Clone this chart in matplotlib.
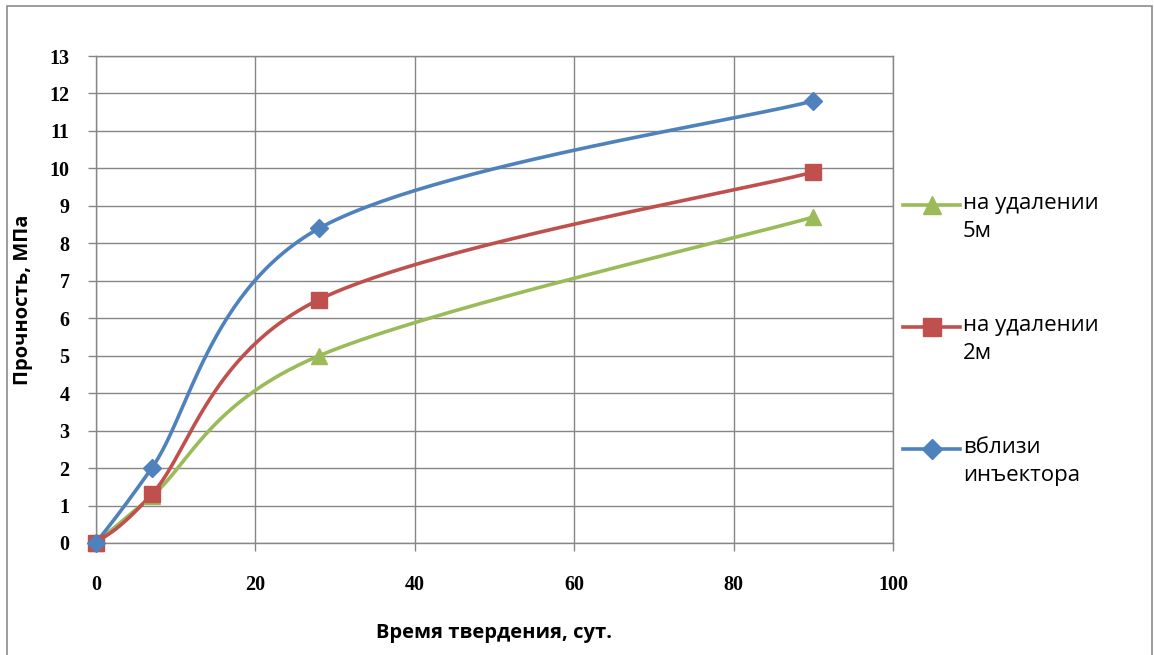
import numpy as np
import matplotlib
matplotlib.use("Agg")
import matplotlib.pyplot as plt
from matplotlib.lines import Line2D
from matplotlib.patches import Rectangle

# Curing time, days
days = [0, 7, 28, 90]

# Strength, MPa
near_injector = [0.0, 2.0, 8.4, 11.8]
at_2m = [0.0, 1.3, 6.5, 9.9]
at_5m = [0.0, 1.25, 5.0, 8.7]

series_labels = ["на удалении\n5м", "на удалении\n2м", "вблизи\nинъектора"]
x_ticks = [0, 20, 40, 60, 80, 100]
y_ticks = list(range(0, 14))

W, H = 1154, 655
fig = plt.figure(figsize=(W / 100, H / 100), dpi=100)
fig.patch.set_facecolor("white")

left, right, top, bottom = 96, 893, 56, 543
ax = fig.add_axes([left / W, 1 - bottom / H, (right - left) / W, (bottom - top) / H])
ax.set_xlim(0, 100)
ax.set_ylim(0, 13)

# Outer chart border
fig.add_artist(Rectangle((7 / W, -0.02), (1152 - 7) / W, 1 - 6 / H + 0.02,
                         transform=fig.transFigure, fill=False,
                         edgecolor="#8c8c8c", linewidth=1.2))


def smooth_curve(xs, ys, ax, n=60):
    """Excel-style smoothed line: cubic Bezier segments built in display space."""
    pts = ax.transData.transform(np.column_stack([xs, ys]))
    P = np.vstack([pts[0], pts, pts[-1]])
    out = []
    for i in range(1, len(P) - 2):
        p0, p1, p2, p3 = P[i - 1], P[i], P[i + 1], P[i + 2]
        c1 = p1 + (p2 - p0) / 6.0
        c2 = p2 - (p3 - p1) / 6.0
        t = np.linspace(0, 1, n)[:, None]
        seg = ((1 - t) ** 3) * p1 + 3 * ((1 - t) ** 2) * t * c1 + 3 * (1 - t) * t ** 2 * c2 + t ** 3 * p2
        out.append(seg if i == 1 else seg[1:])
    seg = np.vstack(out)
    data = ax.transData.inverted().transform(seg)
    return data[:, 0], data[:, 1]


styles = [
    (at_5m, "#9bbb59", "^", 12),
    (at_2m, "#c0504d", "s", 12),
    (near_injector, "#4f81bd", "D", 9),
]

for vals, color, marker, ms in styles:
    sx, sy = smooth_curve(days, vals, ax)
    ax.plot(sx, sy, color=color, linewidth=2.6, solid_capstyle="round", zorder=3, clip_on=False)
    ax.plot(days, vals, linestyle="none", marker=marker, markersize=ms,
            color=color, markeredgecolor=color, zorder=4, clip_on=False)

# Grid and axes
ax.set_xticks(x_ticks)
ax.set_yticks(y_ticks)
ax.grid(True, color="#868686", linewidth=1.0)
ax.set_axisbelow(True)
for s in ax.spines.values():
    s.set_color("#868686")
    s.set_linewidth(1.0)
ax.tick_params(axis="both", direction="out", length=6, color="#868686", width=1.0,
               labelsize=14.5)
for lab in ax.get_xticklabels() + ax.get_yticklabels():
    lab.set_fontfamily("Liberation Serif")
    lab.set_fontweight("bold")
ax.tick_params(axis="x", pad=17)
ax.tick_params(axis="y", pad=13)

ax.set_xlabel("Время твердения, сут.", fontfamily="Open Sans", fontweight="bold",
              fontsize=14.5, labelpad=20)
ax.set_ylabel("Прочность, МПа", fontfamily="Open Sans", fontweight="bold",
              fontsize=14.5, labelpad=12)

# Legend, right of the plot area
legend_rows = [205, 327, 449]
for (vals, color, marker, ms), label, yrow in zip(styles, series_labels, legend_rows):
    yf = 1 - yrow / H
    fig.add_artist(Line2D([903 / W, 960 / W], [yf, yf], transform=fig.transFigure,
                          color=color, linewidth=2.6))
    fig.add_artist(Line2D([931.5 / W], [yf], transform=fig.transFigure, marker=marker,
                          markersize=ms + 1, color=color, linestyle="none"))
    fig.text(963 / W, yf + 12 / H, label, fontfamily="Open Sans", fontsize=16,
             va="top", ha="left", linespacing=1.45)

fig.savefig("out.png", dpi=100, facecolor="white")
